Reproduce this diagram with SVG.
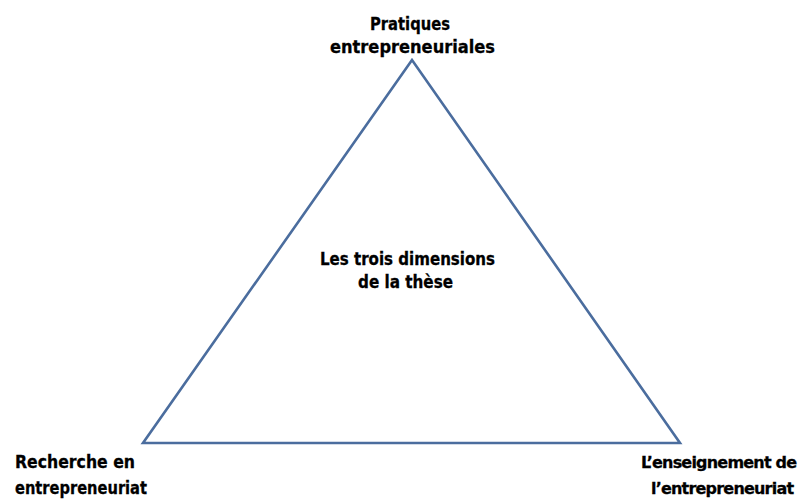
<svg xmlns="http://www.w3.org/2000/svg" width="805" height="499" viewBox="0 0 805 499">
<style>
.t{font-family:"DejaVu Sans","Liberation Sans",sans-serif;font-weight:bold;font-size:17px;fill:#000;stroke:#000;stroke-width:0.3}
.r{font-size:16px;letter-spacing:-0.8px}
.edge{fill:none;stroke:#4b6d9e;stroke-width:2.6;stroke-linejoin:miter}
</style>
<rect width="805" height="499" fill="#fff"/>
<g id="connectors">
<polygon class="edge" points="412,60 143,443 680,443"/>
</g>
<g id="node-top">
<text class="t" x="370" y="30" textLength="80" lengthAdjust="spacingAndGlyphs">Pratiques</text>
<text class="t" x="330" y="53" textLength="165" lengthAdjust="spacingAndGlyphs">entrepreneuriales</text>
</g>
<g id="node-left">
<text class="t" x="15" y="468" textLength="120" lengthAdjust="spacingAndGlyphs">Recherche en</text>
<text class="t" x="15" y="494" textLength="132" lengthAdjust="spacingAndGlyphs">entrepreneuriat</text>
</g>
<g id="node-right">
<text class="t r" x="641" y="468">L’enseignement de</text>
<text class="t r" x="651" y="494">l’entrepreneuriat</text>
</g>
<g id="node-center">
<text class="t" x="320" y="265" textLength="175" lengthAdjust="spacingAndGlyphs">Les trois dimensions</text>
<text class="t" x="358" y="288" textLength="95" lengthAdjust="spacingAndGlyphs">de la thèse</text>
</g>
</svg>
